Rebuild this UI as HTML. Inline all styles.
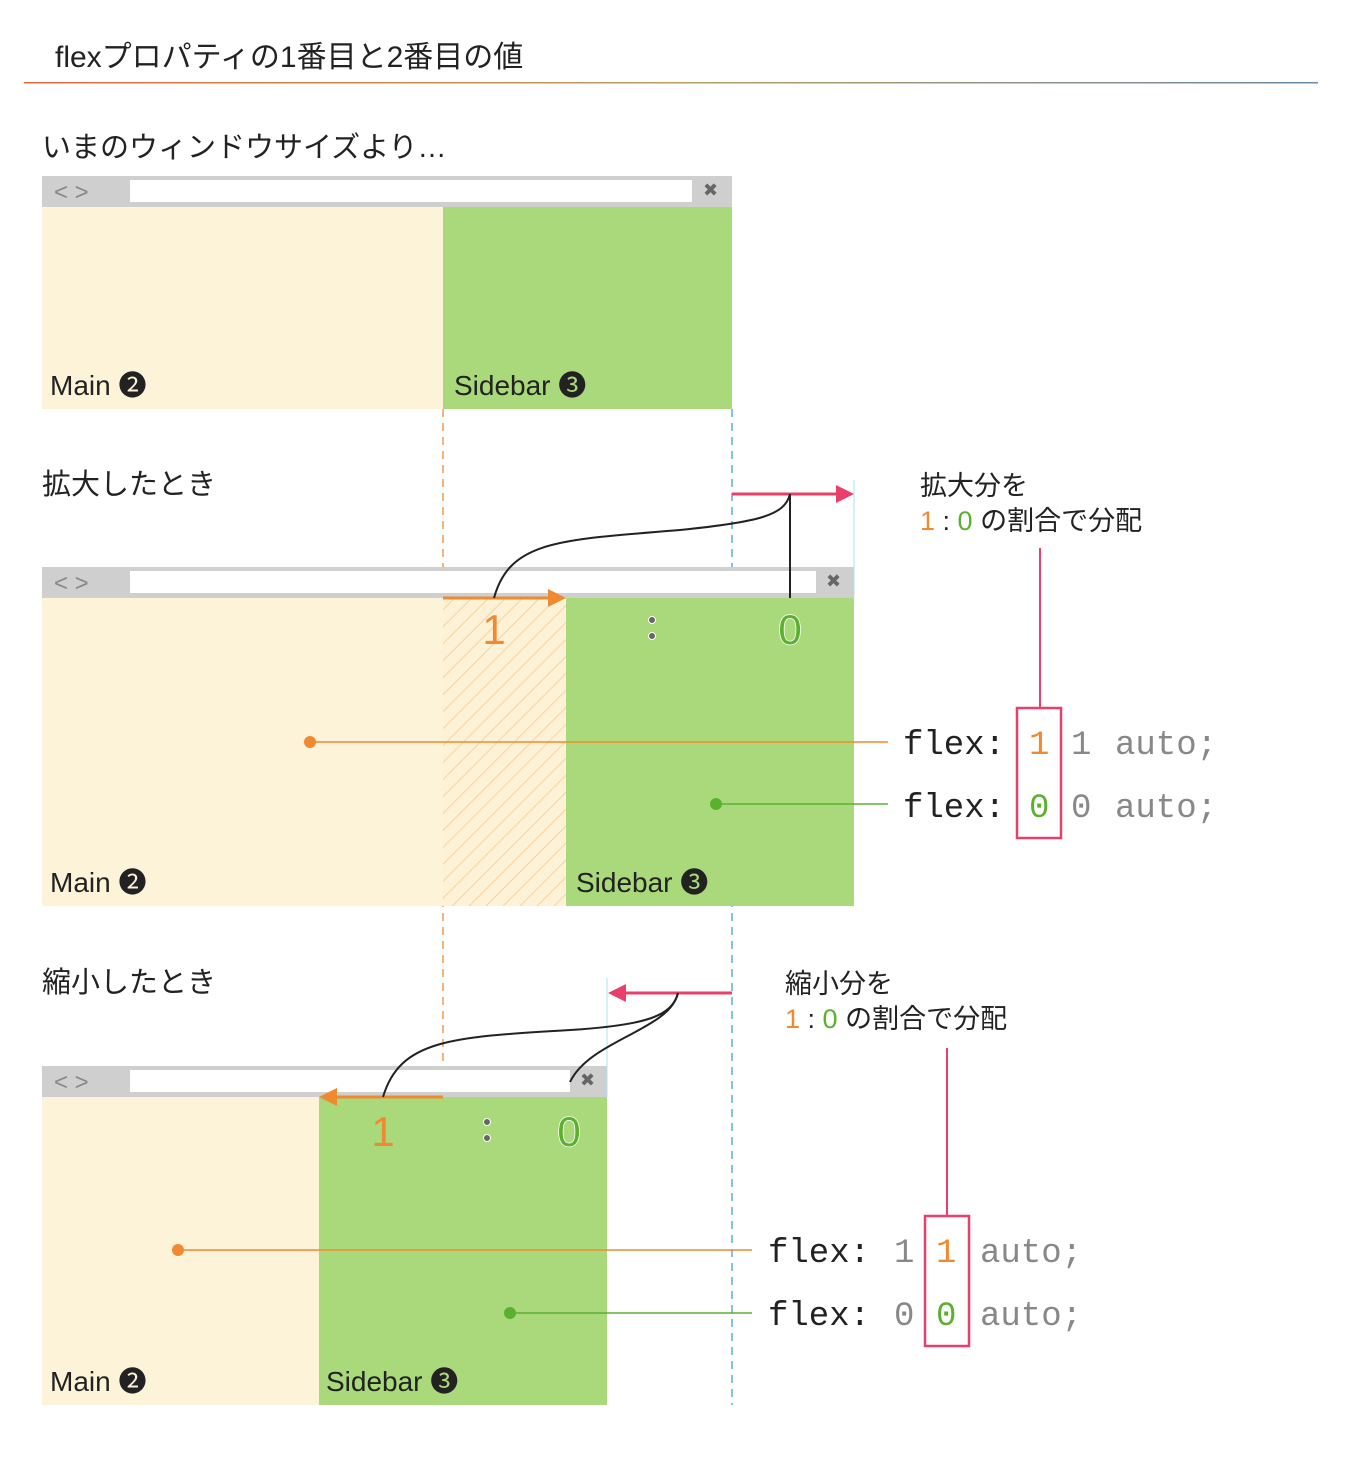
<!DOCTYPE html>
<html><head><meta charset="utf-8"><style>
body{margin:0;background:#fff}
svg text{font-family:"Liberation Sans","Noto Sans CJK JP",sans-serif}
.m{font-family:"Liberation Mono","DejaVu Sans Mono",monospace;font-size:34px}
</style></head><body>
<svg width="1359" height="1455" xmlns="http://www.w3.org/2000/svg">
<defs>
<pattern id="h" width="12" height="12" patternUnits="userSpaceOnUse" patternTransform="rotate(45)">
<rect width="12" height="12" fill="#fdf1d6"/><line x1="0" y1="0" x2="0" y2="12" stroke="#f7c98f" stroke-width="1.5"/></pattern>
<linearGradient id="g" x1="0" x2="1"><stop offset="0" stop-color="#e06a3a"/><stop offset="0.5" stop-color="#b9a060"/><stop offset="1" stop-color="#6a8aa8"/></linearGradient>
</defs>
<text x="55" y="67" font-size="30" fill="#222">flexプロパティの1番目と2番目の値</text>
<rect x="24" y="82" width="1294" height="1.5" fill="url(#g)"/>
<text x="42" y="157" font-size="29" fill="#222">いまのウィンドウサイズより…</text>

<!-- browser 1 -->
<rect x="42" y="176" width="690" height="31" fill="#cfcfcf"/>
<rect x="130" y="180" width="562" height="22" fill="#fff"/>
<text x="54" y="200" font-size="24" fill="#888">&lt; &gt;</text>
<text x="703" y="196" font-size="18" fill="#666">✖</text>
<rect x="42" y="207" width="401" height="202" fill="#fdf3d8"/>
<rect x="443" y="207" width="289" height="202" fill="#a9d97a"/>
<text x="50" y="395" font-size="28" fill="#222">Main ❷</text>
<text x="454" y="395" font-size="28" fill="#222">Sidebar ❸</text>

<!-- guides -->
<line x1="443" y1="409" x2="443" y2="1100" stroke="#f39a4a" stroke-width="1.5" stroke-dasharray="8,6"/>
<line x1="732" y1="409" x2="732" y2="1405" stroke="#5aaee0" stroke-width="1.5" stroke-dasharray="8,6"/>

<!-- section 2 -->
<text x="42" y="494" font-size="29" fill="#222">拡大したとき</text>
<rect x="42" y="567" width="812" height="31" fill="#cfcfcf"/>
<rect x="130" y="571" width="686" height="22" fill="#fff"/>
<text x="54" y="591" font-size="24" fill="#888">&lt; &gt;</text>
<text x="826" y="587" font-size="18" fill="#666">✖</text>
<rect x="42" y="598" width="401" height="308" fill="#fdf3d8"/>
<rect x="443" y="598" width="123" height="308" fill="url(#h)"/>
<rect x="566" y="598" width="288" height="308" fill="#a9d97a"/>
<line x1="854" y1="480" x2="854" y2="598" stroke="#aee0f0" stroke-width="1"/>
<text x="50" y="892" font-size="28" fill="#222">Main ❷</text>
<text x="576" y="892" font-size="28" fill="#222">Sidebar ❸</text>
<line x1="443" y1="598" x2="550" y2="598" stroke="#f08a30" stroke-width="3"/>
<polygon points="566,598 548,589 548,607" fill="#f08a30"/>
<line x1="732" y1="494" x2="838" y2="494" stroke="#e8406a" stroke-width="3"/>
<polygon points="854,494 836,485 836,503" fill="#e8406a"/>
<path d="M494,598 C510,540 560,540 680,530 C760,522 785,515 790,494" fill="none" stroke="#222" stroke-width="2"/>
<line x1="790" y1="494" x2="790" y2="598" stroke="#222" stroke-width="2"/>
<text x="494" y="644" font-size="42" fill="#f08a30" text-anchor="middle">1</text>
<circle cx="652" cy="620" r="3.5" fill="#666" stroke="#fff"/><circle cx="652" cy="636" r="3.5" fill="#666" stroke="#fff"/>
<text x="790" y="644" font-size="42" fill="#5cb030" stroke="#fff" stroke-width="1.5" paint-order="stroke" text-anchor="middle">0</text>
<text x="920" y="495" font-size="27" fill="#222">拡大分を</text>
<text x="920" y="530" font-size="27" fill="#222"><tspan fill="#f08a30">1</tspan> : <tspan fill="#5cb030">0</tspan> の割合で分配</text>
<line x1="1040" y1="548" x2="1040" y2="708" stroke="#e8406a" stroke-width="2"/>
<rect x="1017" y="708" width="44" height="130" fill="none" stroke="#e8406a" stroke-width="2.5"/>
<line x1="310" y1="742" x2="888" y2="742" stroke="#f08a30" stroke-width="1.5"/>
<circle cx="310" cy="742" r="6" fill="#f08a30"/>
<line x1="716" y1="804" x2="888" y2="804" stroke="#5cb030" stroke-width="1.5"/>
<circle cx="716" cy="804" r="6" fill="#5cb030"/>
<text class="m" x="903" y="754" fill="#222">flex:</text><text class="m" x="1029" y="754" fill="#f08a30">1</text><text class="m" x="1071" y="754" fill="#888">1</text><text class="m" x="1115" y="754" fill="#888">auto;</text>
<text class="m" x="903" y="817" fill="#222">flex:</text><text class="m" x="1029" y="817" fill="#5cb030">0</text><text class="m" x="1071" y="817" fill="#888">0</text><text class="m" x="1115" y="817" fill="#888">auto;</text>

<!-- section 3 -->
<text x="42" y="992" font-size="29" fill="#222">縮小したとき</text>
<rect x="42" y="1066" width="565" height="31" fill="#cfcfcf"/>
<rect x="130" y="1070" width="440" height="22" fill="#fff"/>
<text x="54" y="1090" font-size="24" fill="#888">&lt; &gt;</text>
<text x="580" y="1086" font-size="18" fill="#666">✖</text>
<rect x="42" y="1097" width="277" height="308" fill="#fdf3d8"/>
<rect x="319" y="1097" width="288" height="308" fill="#a9d97a"/>
<line x1="607" y1="978" x2="607" y2="1097" stroke="#aee0f0" stroke-width="1"/>
<text x="50" y="1391" font-size="28" fill="#222">Main ❷</text>
<text x="326" y="1391" font-size="28" fill="#222">Sidebar ❸</text>
<line x1="443" y1="1097" x2="335" y2="1097" stroke="#f08a30" stroke-width="3"/>
<polygon points="319,1097 337,1088 337,1106" fill="#f08a30"/>
<line x1="732" y1="993" x2="624" y2="993" stroke="#e8406a" stroke-width="3"/>
<polygon points="608,993 626,984 626,1002" fill="#e8406a"/>
<path d="M383,1097 C400,1040 450,1037 570,1030 C650,1025 672,1015 678,993" fill="none" stroke="#222" stroke-width="2"/>
<path d="M570,1082 C590,1040 670,1030 678,993" fill="none" stroke="#222" stroke-width="2"/>
<text x="383" y="1146" font-size="42" fill="#f08a30" text-anchor="middle">1</text>
<circle cx="487" cy="1122" r="3.5" fill="#666" stroke="#fff"/><circle cx="487" cy="1138" r="3.5" fill="#666" stroke="#fff"/>
<text x="569" y="1146" font-size="42" fill="#5cb030" stroke="#fff" stroke-width="1.5" paint-order="stroke" text-anchor="middle">0</text>
<text x="785" y="993" font-size="27" fill="#222">縮小分を</text>
<text x="785" y="1028" font-size="27" fill="#222"><tspan fill="#f08a30">1</tspan> : <tspan fill="#5cb030">0</tspan> の割合で分配</text>
<line x1="947" y1="1048" x2="947" y2="1216" stroke="#e8406a" stroke-width="2"/>
<rect x="925" y="1216" width="44" height="130" fill="none" stroke="#e8406a" stroke-width="2.5"/>
<line x1="178" y1="1250" x2="752" y2="1250" stroke="#f08a30" stroke-width="1.5"/>
<circle cx="178" cy="1250" r="6" fill="#f08a30"/>
<line x1="510" y1="1313" x2="752" y2="1313" stroke="#5cb030" stroke-width="1.5"/>
<circle cx="510" cy="1313" r="6" fill="#5cb030"/>
<text class="m" x="768" y="1262" fill="#222">flex:</text><text class="m" x="894" y="1262" fill="#888">1</text><text class="m" x="936" y="1262" fill="#f08a30">1</text><text class="m" x="980" y="1262" fill="#888">auto;</text>
<text class="m" x="768" y="1325" fill="#222">flex:</text><text class="m" x="894" y="1325" fill="#888">0</text><text class="m" x="936" y="1325" fill="#5cb030">0</text><text class="m" x="980" y="1325" fill="#888">auto;</text>
</svg>
</body></html>
